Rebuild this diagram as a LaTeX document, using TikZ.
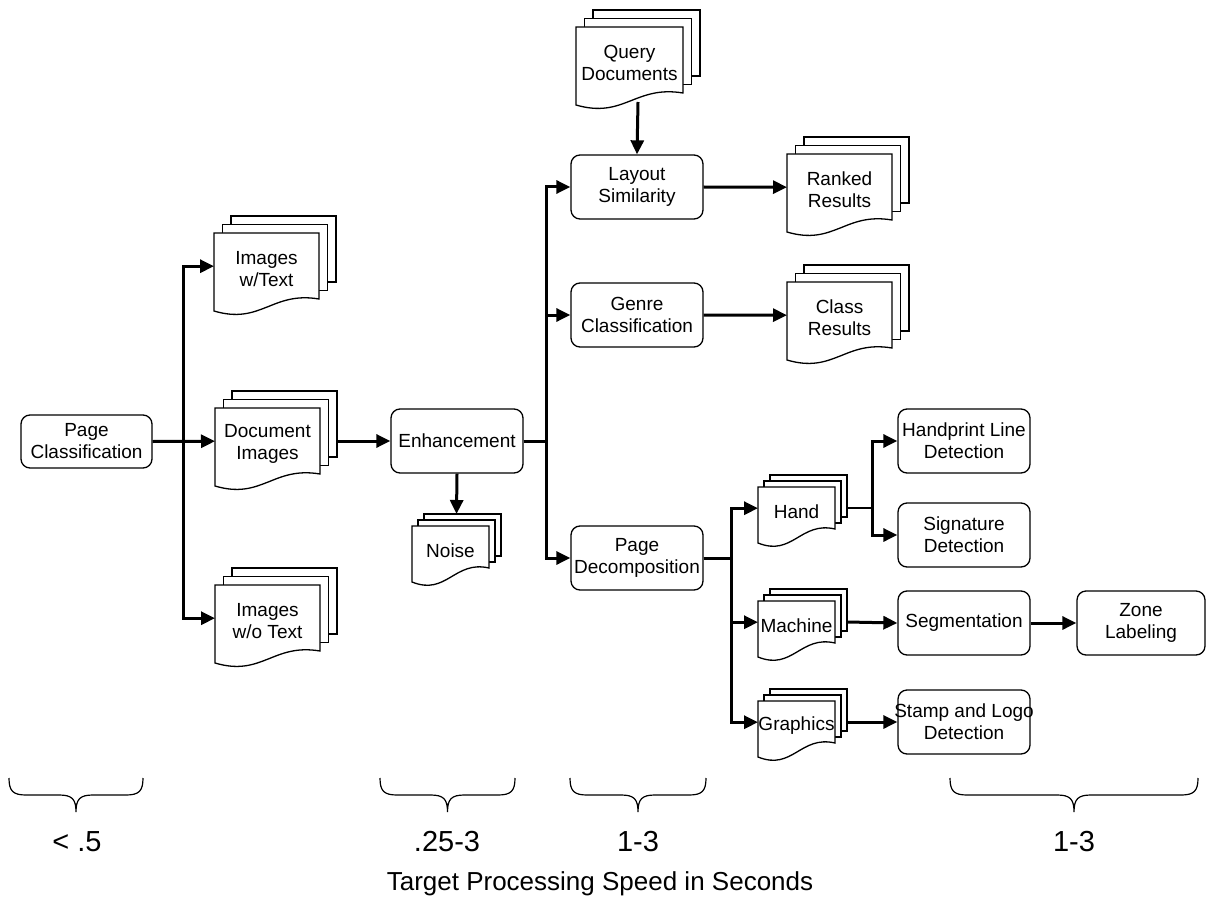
\documentclass[tikz,border=0pt]{standalone}
\usepackage{fontspec}
\setmainfont{Liberation Sans}
\usetikzlibrary{arrows.meta}

\tikzset{
  proc/.style={draw, line width=1.3pt, rounded corners=9pt, minimum width=132pt,
    minimum height=64pt, inner sep=0pt, align=center, font=\fontsize{19}{22}\selectfont},
  page/.style={draw, line width=1.3pt, fill=white},
  stacklabel/.style={align=center, inner sep=0pt, font=\fontsize{19}{22}\selectfont},
  conn/.style={line width=3pt},
  arr/.style={conn, -{Triangle[length=14pt,width=13pt]}},
  speed/.style={inner sep=0pt, font=\fontsize{29}{31}\selectfont},
  caption/.style={inner sep=0pt, font=\fontsize{26}{30}\selectfont},
  bracket/.style={line width=1.2pt},
}

% stack of three pages: name, left, top, width, right height, left height, offset, label
\newcommand\docstack[8]{%
  \draw[page] (#2+2*#7,#3-2*#7) rectangle (#2+2*#7+#4,#3-2*#7+#5);
  \draw[page] (#2+#7,#3-#7) rectangle (#2+#7+#4,#3-#7+#5);
  \draw[page] (#2,#3) -- (#2+#4,#3) -- (#2+#4,#3+#5)
     .. controls (#2+0.55*#4,#3+#5-8) and (#2+0.45*#4,#3+#6+14) .. (#2,#3+#6) -- cycle;
  \node[minimum width=#4pt, minimum height=#5pt, inner sep=0pt, anchor=north west] (#1) at (#2,#3) {};
  \node[stacklabel] (#1-label) at (#2+0.5*#4, #3+0.25*#5+0.25*#6) {#8};
  \coordinate (#1-out) at (#2+#4+2*#7, #3+0.5*#5);
  \coordinate (#1-top) at (#2+0.5*#4+#7, #3-2*#7);
  \coordinate (#1-bottom) at (#2+0.5*#4+#7, #3+#5+9);
}

% curly bracket under a column: left end, right end
\newcommand\speedbrace[2]{%
  \pgfmathsetmacro\bmid{(#1+#2)/2}%
  \draw[bracket] (#1,778) .. controls (#1,791) and (#1+4,795) .. (#1+17,795)
    -- (\bmid-17,795) .. controls (\bmid-4,795) and (\bmid,799) .. (\bmid,812)
    .. controls (\bmid,799) and (\bmid+4,795) .. (\bmid+17,795)
    -- (#2-17,795) .. controls (#2-4,795) and (#2,791) .. (#2,778);
}

\begin{document}
\begin{tikzpicture}[x=1pt,y=-1pt]
\useasboundingbox (0,0) rectangle (1206,917);

% processing steps
\node[proc, minimum height=53pt, minimum width=131pt] (pc) at (86.5,441.5) {Page\\Classification};
\node[proc] (enh) at (457,441) {Enhancement};
\node[proc] (layout) at (637,187) {Layout\\Similarity};
\node[proc] (genre) at (637,315) {Genre\\Classification};
\node[proc] (pd) at (637,558) {Page\\Decomposition};
\node[proc] (hpl) at (964,441) {Handprint Line\\Detection};
\node[proc] (sig) at (964,535) {Signature\\Detection};
\node[proc] (seg) at (964,623) {Segmentation};
\node[proc] (stamp) at (964,722) {};
\node[stacklabel] (stamp-label) at (stamp.center) {Stamp and Logo\\Detection};
\node[proc, minimum width=128pt] (zone) at (1141,623) {Zone\\Labeling};

% document stacks
\docstack{wtext}{214}{233}{105}{66}{78}{8.5}{Images\\w/Text}
\docstack{docimg}{215}{408}{105}{66}{78}{8.5}{Document\\Images}
\docstack{wotext}{215}{585}{105}{66}{78}{8.5}{Images\\w/o Text}
\docstack{query}{576}{27}{107}{66}{78}{8.5}{Query\\Documents}
\docstack{ranked}{787}{154}{105}{66}{78}{8.5}{Ranked\\Results}
\docstack{classres}{787}{282}{105}{66}{78}{8.5}{Class\\Results}
\docstack{noise}{412}{526}{77}{42}{56}{6}{Noise}
\docstack{hand}{758}{487}{77}{42}{56}{6}{Hand}
\docstack{machine}{758}{601}{77}{42}{56}{6}{Machine}
\docstack{graphics}{758}{701}{77}{42}{56}{6}{Graphics}

% connectors
\draw[arr] (pc.east) -- (docimg.west);
\draw[arr] (pc.east) -- ++(31,0) |- (wtext.west);
\draw[arr] (pc.east) -- ++(31,0) |- (wotext.west);
\draw[arr] (docimg-out) -- (enh.west);
\draw[arr] (enh.south) -- (noise-top);
\draw[arr] (enh.east) -- ++(23,0) |- (layout.west);
\draw[arr] (enh.east) -- ++(23,0) |- (genre.west);
\draw[arr] (enh.east) -- ++(23,0) |- (pd.west);
\draw[arr] (query-bottom) -- (layout.north);
\draw[arr] (layout.east) -- (ranked.west);
\draw[arr] (genre.east) -- (classres.west);
\draw[arr] (pd.east) -- ++(28,0) |- (hand.west);
\draw[arr] (pd.east) -- ++(28,0) |- (machine.west);
\draw[arr] (pd.east) -- ++(28,0) |- (graphics.west);
\draw[conn, line width=2pt] (hand-out) -- ++(25,0) coordinate (hb);
\draw[arr] (hb) |- (hpl.west);
\draw[arr] (hb) |- (sig.west);
\draw[arr] (machine-out) -- (seg.west);
\draw[arr] (graphics-out) -- (stamp.west);
\draw[arr] (seg.east) -- (zone.west);

% processing time scale
\speedbrace{9}{143}
\speedbrace{380}{515}
\speedbrace{570}{706}
\speedbrace{950}{1198}
\node[speed] (s1) at (77,842) {< .5};
\node[speed] (s2) at (447,842) {.25-3};
\node[speed] (s3) at (638,842) {1-3};
\node[speed] (s4) at (1074,842) {1-3};
\node[caption] (cap) at (600,884) {Target Processing Speed in Seconds};
\end{tikzpicture}
\end{document}
